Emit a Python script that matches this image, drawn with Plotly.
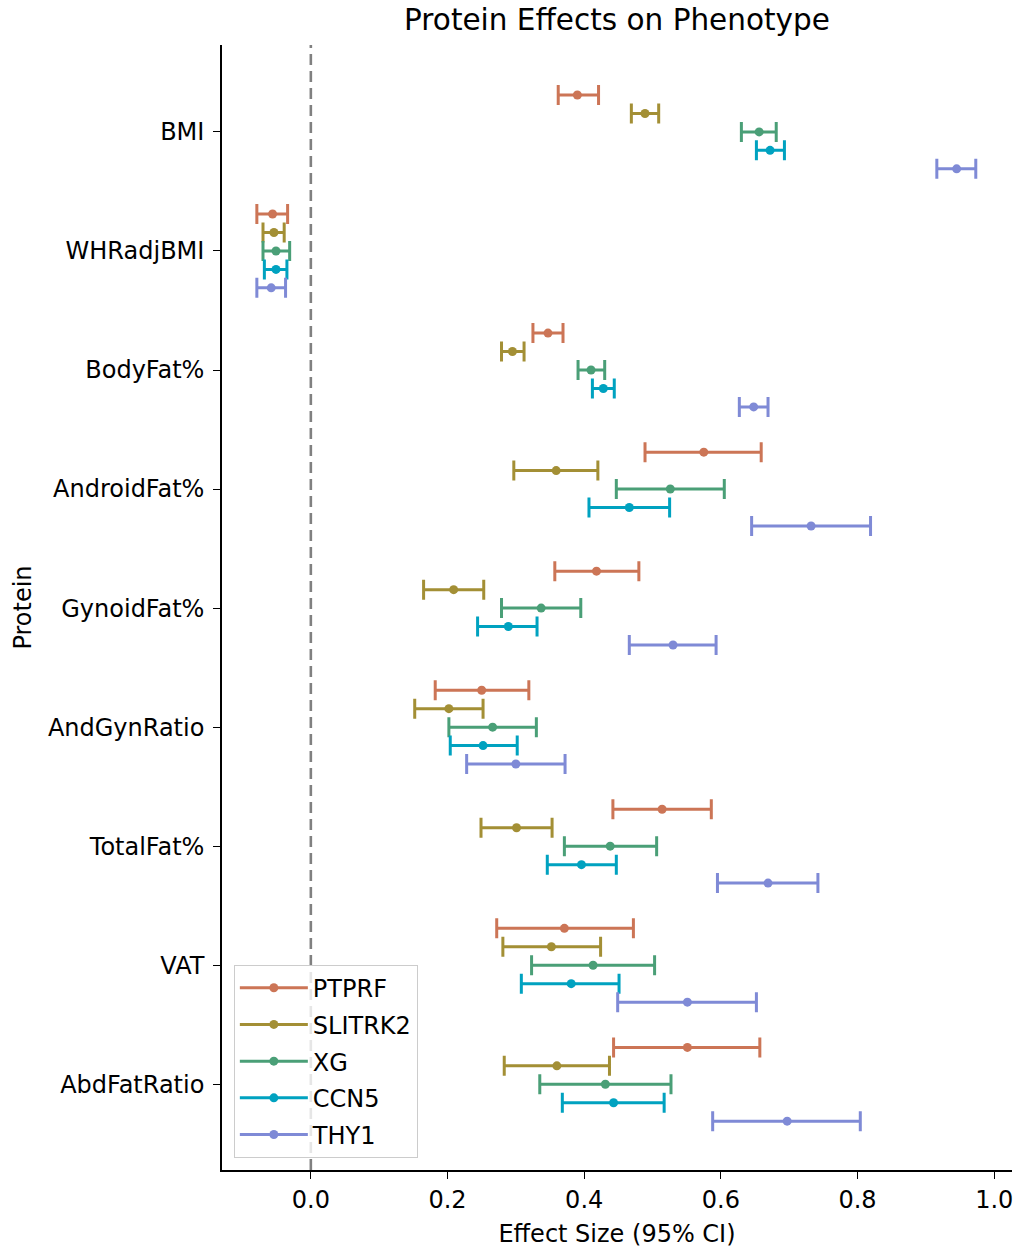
import plotly.graph_objects as go

phenotypes = ["BMI", "WHRadjBMI", "BodyFat%", "AndroidFat%", "GynoidFat%",
              "AndGynRatio", "TotalFat%", "VAT", "AbdFatRatio"]
proteins = ["PTPRF", "SLITRK2", "XG", "CCN5", "THY1"]
colors = ["#cc7556", "#a38f35", "#4a9f77", "#00a2c0", "#7f8ad6"]

ptprf_eff = [0.390, -0.056, 0.347, 0.575, 0.418, 0.250, 0.514, 0.371, 0.551]
ptprf_lo = [0.362, -0.079, 0.325, 0.489, 0.357, 0.182, 0.442, 0.272, 0.443]
ptprf_hi = [0.421, -0.034, 0.369, 0.659, 0.480, 0.319, 0.586, 0.472, 0.657]

slitrk2_eff = [0.489, -0.054, 0.295, 0.359, 0.209, 0.202, 0.301, 0.352, 0.360]
slitrk2_lo = [0.469, -0.070, 0.279, 0.297, 0.165, 0.152, 0.249, 0.281, 0.283]
slitrk2_hi = [0.509, -0.039, 0.312, 0.420, 0.253, 0.252, 0.353, 0.424, 0.437]

xg_eff = [0.656, -0.051, 0.410, 0.526, 0.337, 0.266, 0.438, 0.413, 0.431]
xg_lo = [0.630, -0.070, 0.391, 0.447, 0.279, 0.202, 0.371, 0.323, 0.335]
xg_hi = [0.681, -0.031, 0.430, 0.605, 0.395, 0.330, 0.506, 0.503, 0.527]

ccn5_eff = [0.672, -0.051, 0.428, 0.466, 0.289, 0.252, 0.396, 0.381, 0.443]
ccn5_lo = [0.652, -0.068, 0.412, 0.407, 0.244, 0.204, 0.346, 0.308, 0.368]
ccn5_hi = [0.693, -0.035, 0.444, 0.525, 0.331, 0.302, 0.447, 0.451, 0.517]

thy1_eff = [0.945, -0.058, 0.648, 0.732, 0.530, 0.300, 0.669, 0.551, 0.697]
thy1_lo = [0.916, -0.079, 0.627, 0.645, 0.466, 0.228, 0.595, 0.449, 0.588]
thy1_hi = [0.973, -0.037, 0.669, 0.819, 0.593, 0.372, 0.742, 0.652, 0.804]

x_ticks = [0.0, 0.2, 0.4, 0.6, 0.8, 1.0]

series = [
    (ptprf_eff, ptprf_lo, ptprf_hi),
    (slitrk2_eff, slitrk2_lo, slitrk2_hi),
    (xg_eff, xg_lo, xg_hi),
    (ccn5_eff, ccn5_lo, ccn5_hi),
    (thy1_eff, thy1_lo, thy1_hi),
]

FONT = "DejaVu Sans"
offset_step = 0.155

fig = go.Figure()
for i, (name, col, (eff, lo, hi)) in enumerate(zip(proteins, colors, series)):
    off = (i - 2) * offset_step
    ys = [j + off for j in range(len(phenotypes))]
    fig.add_trace(go.Scatter(
        x=eff, y=ys, mode="markers", name=name, showlegend=False,
        marker=dict(color=col, size=9),
        error_x=dict(type="data", symmetric=False,
                     array=[h - e for h, e in zip(hi, eff)],
                     arrayminus=[e - l for e, l in zip(eff, lo)],
                     color=col, thickness=3, width=10),
    ))
    # legend entry
    fig.add_trace(go.Scatter(
        x=[None], y=[None], mode="lines+markers", name=name,
        legendgroup=name,
        line=dict(color=col, width=3), marker=dict(color=col, size=9),
    ))

fig.add_shape(type="line", xref="x", yref="paper", x0=0, x1=0, y0=0, y1=1,
              line=dict(color="#808080", width=2.6, dash="11px,6px"), layer="below")

fig.update_layout(
    width=1016, height=1249,
    margin=dict(l=222, r=4, t=45, b=79),
    paper_bgcolor="white", plot_bgcolor="white",
    font=dict(family=FONT, size=24, color="black"),
    title=dict(text="Protein Effects on Phenotype", x=0.5,
               xref="paper", y=1 - 20 / 1249, yref="container",
               xanchor="center", yanchor="middle",
               font=dict(size=29.5, family=FONT)),
    showlegend=True,
    legend=dict(x=0.015, y=0.011, xanchor="left", yanchor="bottom",
                bgcolor="rgba(255,255,255,0.8)", bordercolor="#cccccc", borderwidth=1,
                font=dict(size=24, family=FONT), traceorder="grouped",
                tracegroupgap=2.5, itemwidth=68),
)

fig.update_xaxes(
    range=[-0.13, 1.026], tickvals=x_ticks, ticktext=[f"{v:.1f}" for v in x_ticks],
    showgrid=False, zeroline=False, showline=True, linecolor="black", linewidth=1.6,
    ticks="outside", ticklen=7, tickwidth=1.4, tickcolor="black",
    tickfont=dict(size=24, family=FONT),
    title=dict(text="Effect Size (95% CI)", font=dict(size=24, family=FONT), standoff=13),
)
fig.update_yaxes(
    range=[8.72, -0.73], tickvals=list(range(len(phenotypes))), ticktext=phenotypes,
    showgrid=False, zeroline=False, showline=True, linecolor="black", linewidth=1.6,
    ticks="outside", ticklen=7, tickwidth=1.4, tickcolor="black",
    tickfont=dict(size=24, family=FONT), ticklabelstandoff=4,
    title=dict(text="Protein", font=dict(size=24, family=FONT), standoff=10),
)

fig.write_html("out.html")
